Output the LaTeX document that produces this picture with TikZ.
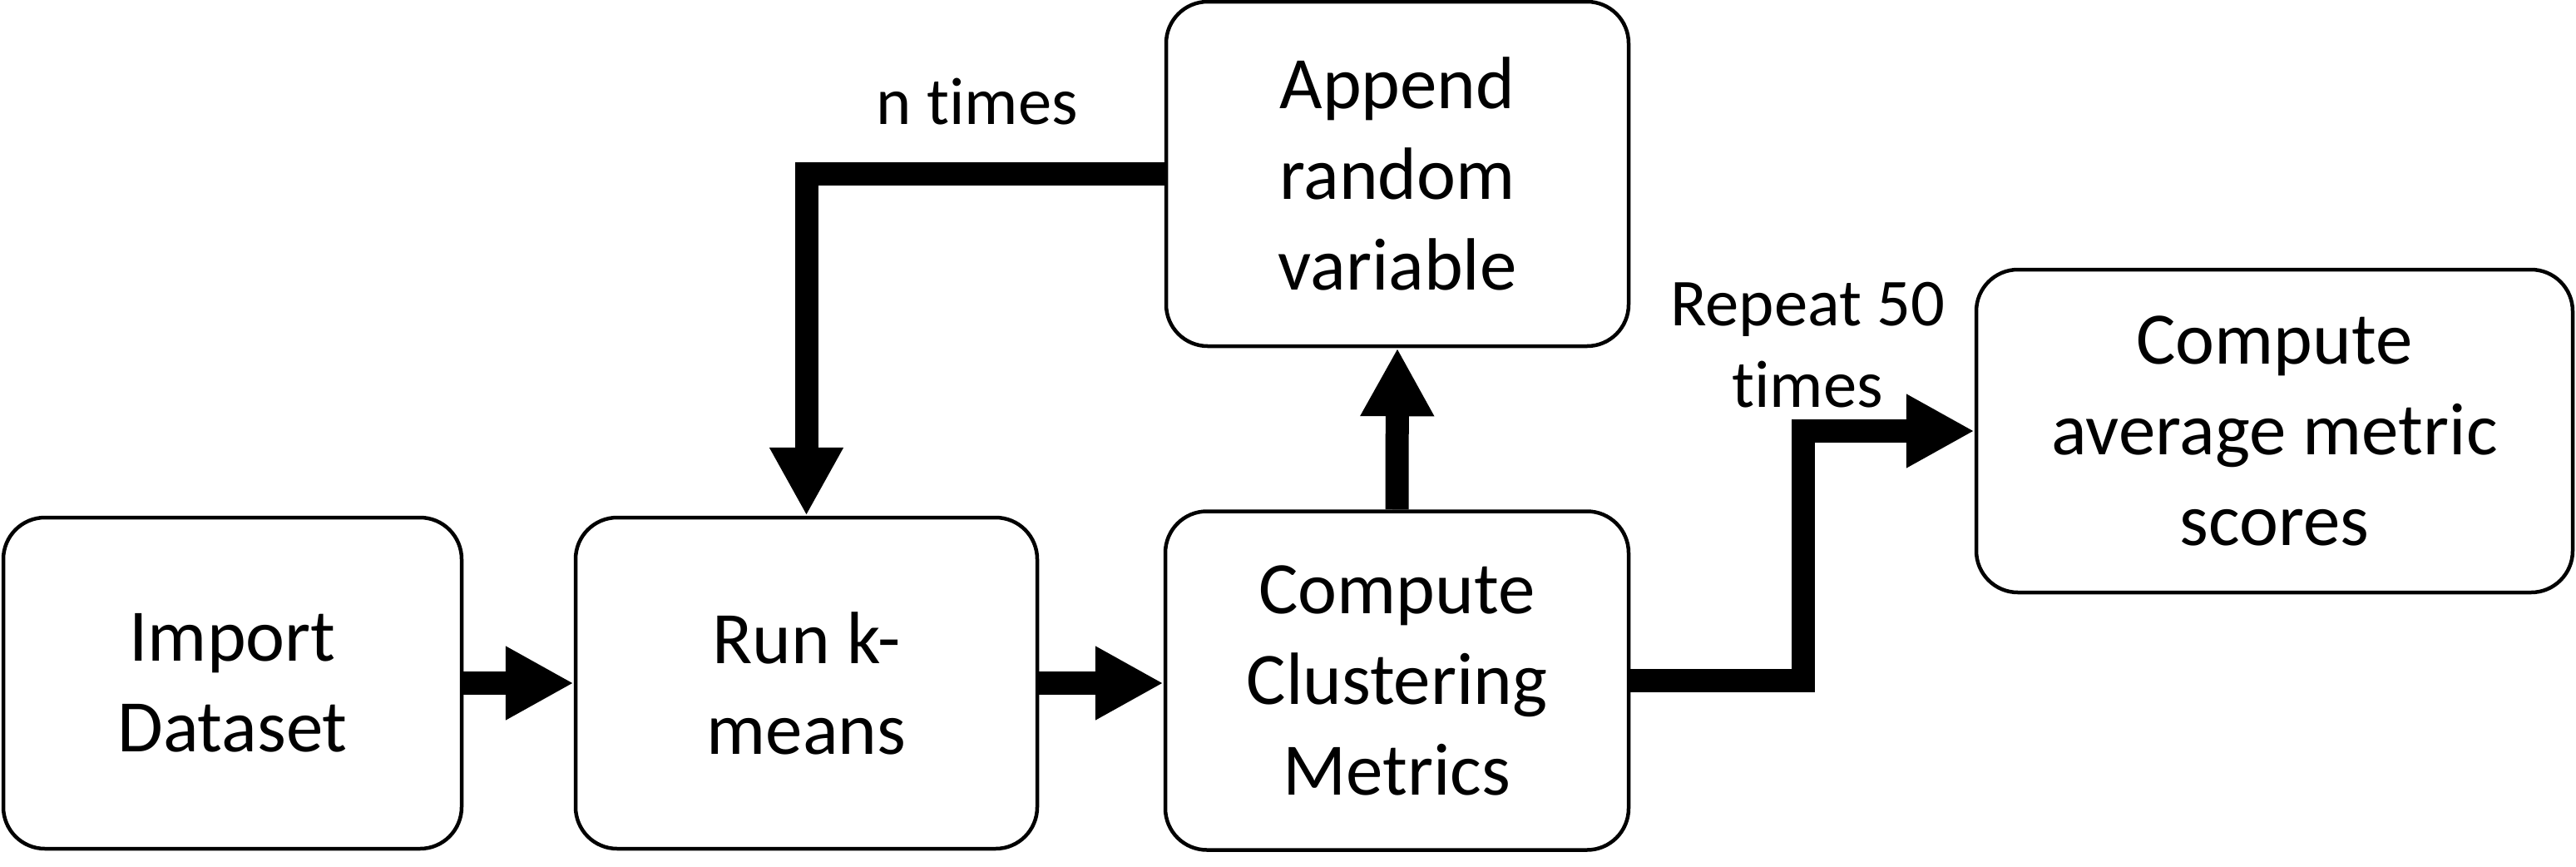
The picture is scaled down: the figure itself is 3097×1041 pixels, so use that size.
\documentclass[tikz,border=0pt]{standalone}
\usepackage{fontspec}
\setmainfont[RawFeature=-liga]{Carlito}
\usetikzlibrary{arrows.meta}
\begin{document}
\begin{tikzpicture}[x=0.25pt,y=-0.25pt,
  box/.style={draw, line width=1.125pt, rounded corners=12.5pt, align=center,
    font=\fontsize{22.25}{27.25}\selectfont, inner sep=0pt},
  conn/.style={line width=7pt, line join=miter, -{Triangle[length=20.5pt,width=20.75pt]}},
  lbl/.style={font=\fontsize{20.15}{24.5}\selectfont, align=center, inner sep=0pt}]
\useasboundingbox (0,0) rectangle (3097,1041);
\node[box, minimum width=137.75pt, minimum height=99.5pt] (imp) at (279.5,821) {Import\\Dataset};
\node[box, minimum width=138.75pt, minimum height=99.5pt] (run) at (969.5,821) {Run k-\\means};
\node[box, minimum width=139.25pt, minimum height=101.75pt] (met) at (1679.5,818) {Compute\\Clustering\\Metrics};
\node[box, minimum width=139pt, minimum height=103.5pt] (app) at (1680,209) {Append\\random\\variable};
\node[box, minimum width=179.25pt, minimum height=97pt] (avg) at (2734.5,518) {Compute\\average metric\\scores};
\node[lbl, anchor=base] (nt) at (1175,149) {n times};
\node[lbl] (rep) at (2173,415) {Repeat 50\\times};
\draw[conn] (imp.east) -- (run.west);
\draw[conn] (run.east) -- (run.east -| met.west);
\draw[conn] (met.north) -- (app.south);
\draw[conn] (app.west) -| (run.north);
\draw[conn] (met.east) -- ++(208,0) |- (avg.west);
\end{tikzpicture}
\end{document}
